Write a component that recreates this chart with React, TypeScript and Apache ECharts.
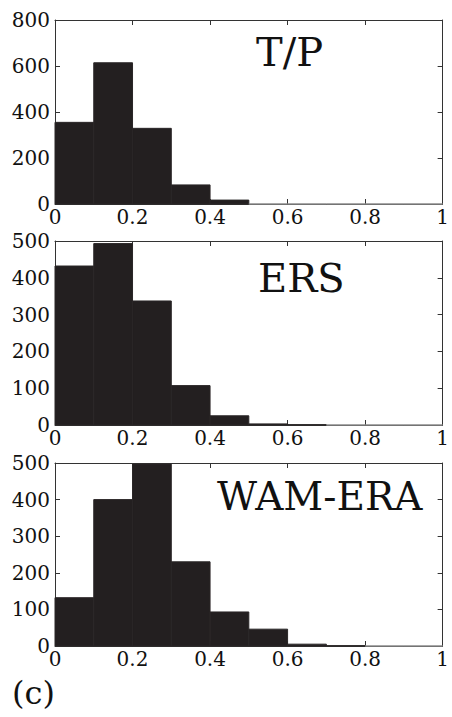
import React, { useEffect, useRef } from "react";
import * as echarts from "echarts";

const binStarts = [0, 0.1, 0.2, 0.3, 0.4, 0.5, 0.6, 0.7, 0.8, 0.9];
const binWidth = 0.1;
const tpCounts = [355, 614, 329, 83, 17, 0, 0, 0, 0, 0];
const ersCounts = [432, 493, 337, 107, 25, 3, 1, 0, 0, 0];
const wamCounts = [132, 400, 497, 230, 93, 46, 5, 1, 0, 0];
const panelTitles = ["T/P", "ERS", "WAM-ERA"];
const yMaxes = [800, 500, 500];
const yIntervals = [200, 100, 100];
const xTicks = [0, 0.2, 0.4, 0.6, 0.8, 1];

const FONT = "DejaVu Serif";
const AXIS_COLOR = "#333";
const TEXT_COLOR = "#111";

export default function App() {
  const ref = useRef<HTMLDivElement>(null);
  useEffect(() => {
    if (!ref.current) return;
    const chart = echarts.init(ref.current, null, { renderer: "svg" });
    const grids = [
      { left: 55, top: 20, width: 393, height: 184 },
      { left: 55, top: 241, width: 393, height: 184 },
      { left: 55, top: 463, width: 393, height: 183 },
    ];
    const allCounts = [tpCounts, ersCounts, wamCounts];
    const xAxes: any[] = [];
    const yAxes: any[] = [];
    const series: any[] = [];
    grids.forEach((g, i) => {
      xAxes.push({
        type: "value", gridIndex: i, min: 0, max: 1, interval: 0.2, position: "bottom",
        axisLine: { show: true, onZero: false, lineStyle: { color: AXIS_COLOR, width: 1 } },
        axisTick: { show: true, inside: true, length: 5, lineStyle: { color: AXIS_COLOR } },
        splitLine: { show: false },
        axisLabel: {
          show: true, margin: 3, color: TEXT_COLOR, fontFamily: FONT, fontSize: 20,
          formatter: (v: number) => (xTicks.some((t) => Math.abs(t - v) < 1e-9) ? String(Math.round(v * 10) / 10) : ""),
        },
      });
      xAxes.push({
        type: "value", gridIndex: i, min: 0, max: 1, interval: 0.2, position: "top",
        axisLine: { show: true, onZero: false, lineStyle: { color: AXIS_COLOR, width: 1 } },
        axisTick: { show: true, inside: true, length: 5, lineStyle: { color: AXIS_COLOR } },
        splitLine: { show: false }, axisLabel: { show: false },
      });
      yAxes.push({
        type: "value", gridIndex: i, min: 0, max: yMaxes[i], interval: yIntervals[i], position: "left",
        axisLine: { show: true, onZero: false, lineStyle: { color: AXIS_COLOR, width: 1 } },
        axisTick: { show: true, inside: true, length: 5, lineStyle: { color: AXIS_COLOR } },
        splitLine: { show: false },
        axisLabel: { show: true, margin: 5, color: TEXT_COLOR, fontFamily: FONT, fontSize: 20 },
      });
      yAxes.push({
        type: "value", gridIndex: i, min: 0, max: yMaxes[i], interval: yIntervals[i], position: "right",
        axisLine: { show: true, onZero: false, lineStyle: { color: AXIS_COLOR, width: 1 } },
        axisTick: { show: true, inside: true, length: 5, lineStyle: { color: AXIS_COLOR } },
        splitLine: { show: false }, axisLabel: { show: false },
      });
      series.push({
        type: "custom",
        xAxisIndex: i * 2,
        yAxisIndex: i * 2,
        encode: { x: [0, 1], y: 2 },
        data: binStarts.map((b, k) => [b, b + binWidth, allCounts[i][k]]),
        renderItem: (params: any, api: any) => {
          const v = api.value(2);
          const p0 = api.coord([api.value(0), v]);
          const p1 = api.coord([api.value(1), 0]);
          return {
            type: "rect",
            shape: { x: p0[0], y: p0[1], width: p1[0] - p0[0], height: p1[1] - p0[1] },
            style: { fill: "#231f20", stroke: v > 0 ? "#2a2627" : "#8a8a8a", lineWidth: 1 },
          };
        },
      });
    });
    chart.setOption({
      animation: false,
      backgroundColor: "#ffffff",
      grid: grids,
      xAxis: xAxes,
      yAxis: yAxes,
      series,
      graphic: [
        { type: "text", left: 256, top: 32, style: { text: panelTitles[0], font: `40px '${FONT}'`, fill: TEXT_COLOR } },
        { type: "text", left: 258, top: 258, style: { text: panelTitles[1], font: `40px '${FONT}'`, fill: TEXT_COLOR } },
        { type: "text", left: 217, top: 477, style: { text: panelTitles[2], font: `39px '${FONT}'`, fill: TEXT_COLOR } },
        { type: "text", left: 12, top: 677, style: { text: "(c)", font: `32px '${FONT}'`, fill: TEXT_COLOR } },
      ],
    });
    return () => chart.dispose();
  }, []);
  return (
    <div
      ref={ref}
      style={{ position: "absolute", left: 0, top: 0, width: 452, height: 717, background: "#fff" }}
    />
  );
}
